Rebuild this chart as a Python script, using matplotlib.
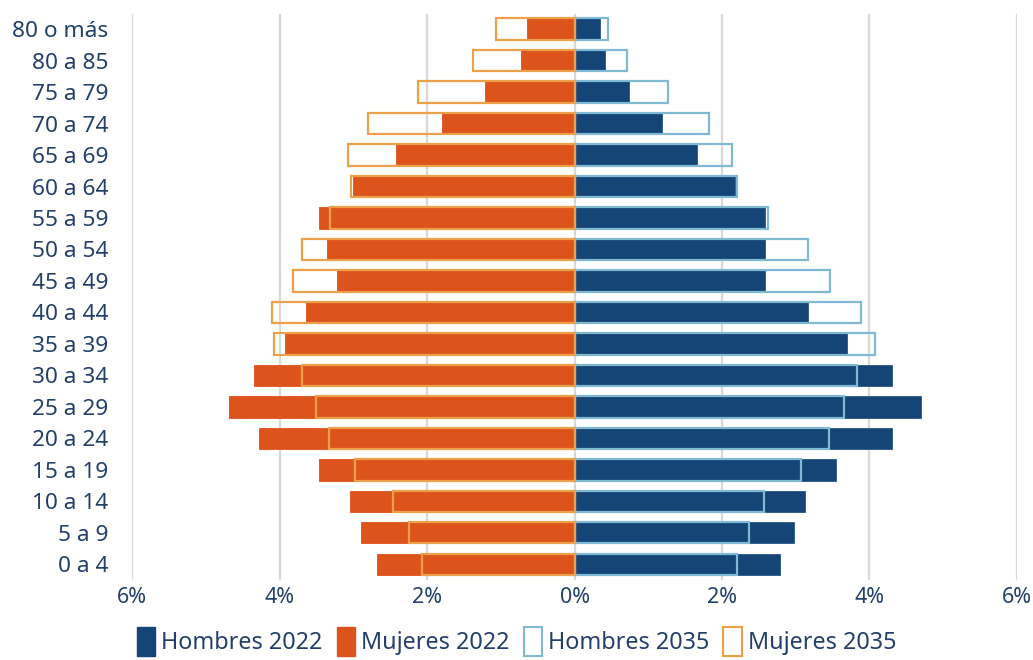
import numpy as np
import matplotlib.pyplot as plt
from matplotlib.patches import Patch

plt.rcParams['font.family'] = ['Noto Sans', 'DejaVu Sans']

grupos = ["80 o más", "80 a 85", "75 a 79", "70 a 74", "65 a 69", "60 a 64",
          "55 a 59", "50 a 54", "45 a 49", "40 a 44", "35 a 39", "30 a 34",
          "25 a 29", "20 a 24", "15 a 19", "10 a 14", "5 a 9", "0 a 4"]

hombres_2022 = [0.34, 0.41, 0.74, 1.18, 1.66, 2.18, 2.58, 2.58, 2.58, 3.16,
                3.70, 4.31, 4.70, 4.31, 3.54, 3.12, 2.98, 2.78]
mujeres_2022 = [0.65, 0.72, 1.22, 1.80, 2.42, 3.00, 3.47, 3.36, 3.22, 3.64,
                3.93, 4.34, 4.68, 4.28, 3.47, 3.04, 2.89, 2.68]
hombres_2035 = [0.46, 0.71, 1.27, 1.83, 2.13, 2.21, 2.62, 3.16, 3.47, 3.88,
                4.07, 3.83, 3.65, 3.45, 3.07, 2.57, 2.37, 2.21]
mujeres_2035 = [1.07, 1.38, 2.12, 2.80, 3.07, 3.03, 3.31, 3.70, 3.82, 4.10,
                4.08, 3.70, 3.51, 3.33, 2.97, 2.46, 2.25, 2.07]

c_h22 = "#154577"
c_m22 = "#dd531c"
c_h35 = "#80b9d3"
c_m35 = "#eda04a"
txt = "#24406a"

fig = plt.figure(figsize=(10.33, 6.6), dpi=100)
ax = fig.add_axes([0.1278, 0.1212, 0.8567, 0.8576])

y = np.arange(len(grupos))
h = 0.68

ax.barh(y, hombres_2022, height=h, color=c_h22, edgecolor="#2a5585", lw=0.6, zorder=2)
ax.barh(y, -np.array(mujeres_2022), height=h, color=c_m22, edgecolor=c_m22, lw=0.6, zorder=2)
ax.barh(y, hombres_2035, height=h, facecolor="none", edgecolor=c_h35, lw=1.6, zorder=3)
ax.barh(y, -np.array(mujeres_2035), height=h, facecolor="none", edgecolor=c_m35, lw=1.6, zorder=3)

ax.set_xlim(-6, 6)
ax.set_ylim(17.5, -0.48)
ax.set_yticks(y)
ax.set_yticklabels(grupos)
ticks = [-6, -4, -2, 0, 2, 4, 6]
ax.set_xticks(ticks)
ax.set_xticklabels([f"{abs(t)}%" for t in ticks])
ax.grid(axis="x", color="#d9d9d9", lw=1.6, zorder=0)
ax.set_axisbelow(True)
for s in ax.spines.values():
    s.set_visible(False)
ax.tick_params(axis="both", length=0, labelcolor=txt)
ax.tick_params(axis="y", pad=17, labelsize=16.3)
ax.tick_params(axis="x", pad=5, labelsize=15.5)

handles = [Patch(facecolor=c_h22, edgecolor=c_h22),
           Patch(facecolor=c_m22, edgecolor=c_m22),
           Patch(facecolor="white", edgecolor=c_h35, lw=1.5),
           Patch(facecolor="white", edgecolor=c_m35, lw=1.5)]
labels = ["Hombres 2022", "Mujeres 2022", "Hombres 2035", "Mujeres 2035"]
leg = fig.legend(handles, labels, loc="lower center", bbox_to_anchor=(0.5, -0.025),
                 ncol=4, frameon=False, fontsize=16.8, handlelength=0.8, handleheight=1.5,
                 handletextpad=0.25, columnspacing=0.6, labelcolor=txt)

fig.savefig("out.png", dpi=100)
